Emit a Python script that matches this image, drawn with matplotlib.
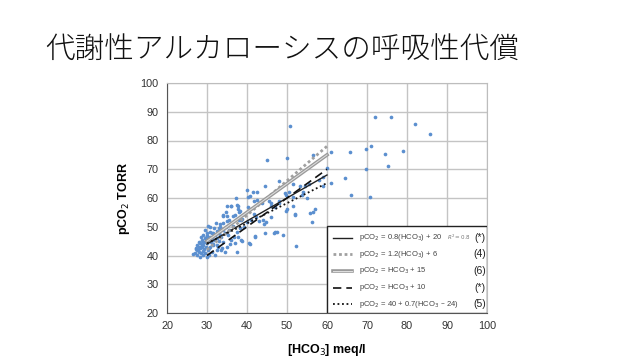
import matplotlib
matplotlib.use("Agg")
import matplotlib.pyplot as plt
import numpy as np

plt.rcParams['font.family'] = ['Liberation Sans', 'DejaVu Sans']

title = "代謝性アルカローシスの呼吸性代償"

# scatter points: [HCO3] meq/l, pCO2 torr
hco3 = [50.7, 44.9, 50.0, 56.5, 60.9, 65.8, 69.8, 71.0, 72.0, 76.1, 82.0, 85.8,
        74.5, 79.0, 75.2, 69.8, 61.1, 64.5, 60.0, 66.0, 70.8, 59.0, 52.3, 49.0,
        47.0, 47.4, 44.6, 41.9, 40.5, 37.4, 56.4, 56.2, 57.0, 52.1, 51.4, 49.9,
        44.6, 40.0, 37.2, 42.5, 41.5, 40.2, 40.7, 47.9,
        35.1, 36.0, 37.8, 34.7, 38.0, 37.8, 40.3, 41.7, 42.6, 43.7, 45.4, 46.1,
        47.0, 48.1, 53.2, 53.9, 54.4, 55.6, 53.8, 57.9, 58.9, 49.8, 50.6, 51.4,
        46.1, 44.8, 44.1, 42.3, 41.1, 39.9, 38.6, 39.2, 38.3, 37.4, 36.5, 36.8,
        37.8, 38.6, 35.7, 34.1, 33.2, 32.9, 33.9, 34.9, 35.5, 36.4, 37.1, 38.0,
        33.9, 32.2, 30.8, 30.3, 32.4, 31.6, 30.8, 29.9, 29.5, 29.1, 28.7, 28.3,
        27.9, 27.4, 27.0, 26.5, 27.6, 28.3, 28.9, 29.5, 29.9, 30.6, 31.2, 32.0,
        32.4, 32.8, 33.6, 34.5, 35.1, 30.8, 30.1, 29.1, 28.3, 28.0, 28.6, 29.3,
        29.8, 30.2, 31.4, 31.8, 31.2, 32.4, 33.0, 33.6, 34.5, 35.3, 35.9, 36.9,
        35.5, 34.7, 31.7, 28.7, 27.6, 27.3, 28.1, 28.9, 29.6, 30.3, 28.4, 29.5,
        30.1, 30.8, 31.3, 32.0, 32.9, 33.2, 34.1,
        36.1, 37.6, 34.1, 34.9, 33.3, 38.2, 38.8, 41.7, 43.1, 44.3, 46.8, 42.0,
        40.7, 38.8, 46.0, 48.0, 49.7, 52.1, 55.0, 55.8, 51.4, 49.4,
        27.8, 28.5, 29.0, 27.2, 28.8, 30.5, 31.0, 29.7, 32.6, 33.8, 30.0, 31.5]
pco2 = [85.2, 73.2, 73.9, 75.1, 76.1, 76.1, 77.1, 78.2, 88.3, 88.3, 85.8, 82.2,
        75.2, 76.2, 71.0, 70.1, 65.1, 67.0, 70.6, 61.1, 60.5, 64.1, 43.4, 47.1,
        48.1, 48.1, 48.0, 46.9, 44.2, 41.3, 55.1, 51.8, 56.1, 54.0, 57.3, 56.1,
        64.3, 62.9, 60.0, 62.0, 62.0, 60.4, 60.6, 65.9,
        57.3, 57.3, 57.3, 55.0, 55.0, 56.1, 56.9, 58.9, 59.2, 58.1, 58.9, 57.2,
        56.9, 58.9, 64.1, 62.1, 64.2, 64.8, 61.1, 66.2, 67.3, 61.0, 62.1, 60.4,
        53.5, 51.7, 52.3, 53.5, 52.3, 51.7, 52.3, 50.0, 49.4, 48.3, 50.2, 46.5,
        46.5, 45.4, 44.0, 44.6, 47.1, 49.4, 54.0, 53.7, 52.3, 53.9, 54.0, 52.3,
        51.4, 51.2, 50.0, 50.3, 48.5, 47.7, 48.3, 47.7, 46.0, 47.1, 45.4, 44.2,
        43.1, 41.9, 41.0, 40.4, 40.2, 39.6, 40.2, 40.8, 39.6, 40.2, 41.3, 40.2,
        41.9, 43.1, 41.9, 41.3, 43.1, 43.1, 44.2, 43.6, 42.5, 41.3, 40.9, 42.1,
        43.1, 41.9, 43.6, 45.4, 46.0, 46.0, 44.9, 46.5, 47.7, 47.1, 45.4, 44.5,
        48.8, 50.0, 49.4, 43.6, 43.6, 42.7, 44.8, 44.8, 44.8, 45.4, 46.3, 48.8,
        46.7, 46.5, 47.7, 47.1, 47.7, 50.0, 48.8,
        57.1, 57.7, 53.7, 52.0, 50.8, 55.4, 52.6, 54.3, 52.0, 50.8, 48.0, 46.5,
        44.0, 44.9, 58.3, 58.3, 55.6, 54.3, 60.0, 54.8, 64.8, 61.8,
        42.0, 43.0, 41.5, 42.3, 42.8, 42.6, 44.6, 45.8, 43.5, 42.7, 46.8, 44.0]

# regression / rule lines, drawn over 30..60 meq/l
x_line = np.array([30, 60])
lines = [
    {'label': r'pCO$_2$ = 0.8(HCO$_3$) + 20', 'note': '(*)',
     'y': 0.8 * x_line + 20},
    {'label': r'pCO$_2$ = 1.2(HCO$_3$) + 6', 'note': '(4)',
     'y': 1.2 * x_line + 6},
    {'label': r'pCO$_2$ = HCO$_3$ + 15', 'note': '(6)',
     'y': x_line + 15},
    {'label': r'pCO$_2$ = HCO$_3$ + 10', 'note': '(*)',
     'y': x_line + 10},
    {'label': r'pCO$_2$ = 40 + 0.7(HCO$_3$ – 24)', 'note': '(5)',
     'y': 40 + 0.7 * (x_line - 24)},
]
styles = [
    [dict(color='#222222', lw=1.0, ls='-')],
    [dict(color='#a0a0a0', lw=2.0, ls=(0, (1, 1)))],
    [dict(color='#9a9a9a', lw=2.6, ls='-'), dict(color='#e0e0e0', lw=0.7, ls='-')],
    [dict(color='#111111', lw=1.2, ls=(0, (5, 3)))],
    [dict(color='#111111', lw=1.3, ls=(0, (1, 1.5)))],
]

fig = plt.figure(figsize=(6.4, 3.6), dpi=100)
fig.text(45 / 640, 1 - 51 / 360, title, fontsize=21.3, va='center', ha='left',
         family=['Noto Sans CJK JP', 'DejaVu Sans'], weight='light', color='#111111')

ax = fig.add_axes([167 / 640, 1 - 313 / 360, 320 / 640, 230 / 360])
ax.scatter(hco3, pco2, s=7, color='#5b8fcf', linewidths=0, zorder=3)
for ln, st in zip(lines, styles):
    for s in st:
        ax.plot(x_line, ln['y'], zorder=4, **s)

ax.set_xlim(20, 100)
ax.set_ylim(20, 100)
ax.set_xticks(range(20, 101, 10))
ax.set_yticks(range(20, 101, 10))
ax.grid(True, color='#c4c4c4', lw=1.0)
ax.set_axisbelow(True)
ax.tick_params(length=0, labelsize=7.8, colors='#333333', pad=6)
for side in ['top', 'right']:
    ax.spines[side].set_color('#bdbdbd')
for side in ['left', 'bottom']:
    ax.spines[side].set_color('#555555')
ax.set_xlabel(r'[HCO$_3$] meq/l', fontsize=9, weight='bold', labelpad=8)
ax.set_ylabel(r'pCO$_2$ TORR', fontsize=9, weight='bold', labelpad=6)

# legend box in the lower right corner
lx0, lw_, lh = 0.5, 0.5, 0.378
ax.add_patch(plt.Rectangle((lx0, 0), lw_, lh, transform=ax.transAxes,
                           facecolor='white', edgecolor='#222222', lw=1.0, zorder=5))
rows = [0.327, 0.256, 0.183, 0.11, 0.039]
for ln, st, ry in zip(lines, styles, rows):
    for s in st:
        ax.plot([0.518, 0.579], [ry, ry], transform=ax.transAxes, zorder=6, **s)
    ax.text(0.60, ry, ln['label'], transform=ax.transAxes, fontsize=5.5,
            va='center', ha='left', color='#444444', zorder=6)
    ax.text(0.978, ry, ln['note'], transform=ax.transAxes, fontsize=7.5,
            va='center', ha='center', color='#222222', zorder=6)
ax.text(0.875, rows[0], r'$R^2 = 0.8$', transform=ax.transAxes, fontsize=4,
        va='center', ha='left', color='#777777', style='italic', zorder=6)

fig.savefig('out.png', dpi=100)
